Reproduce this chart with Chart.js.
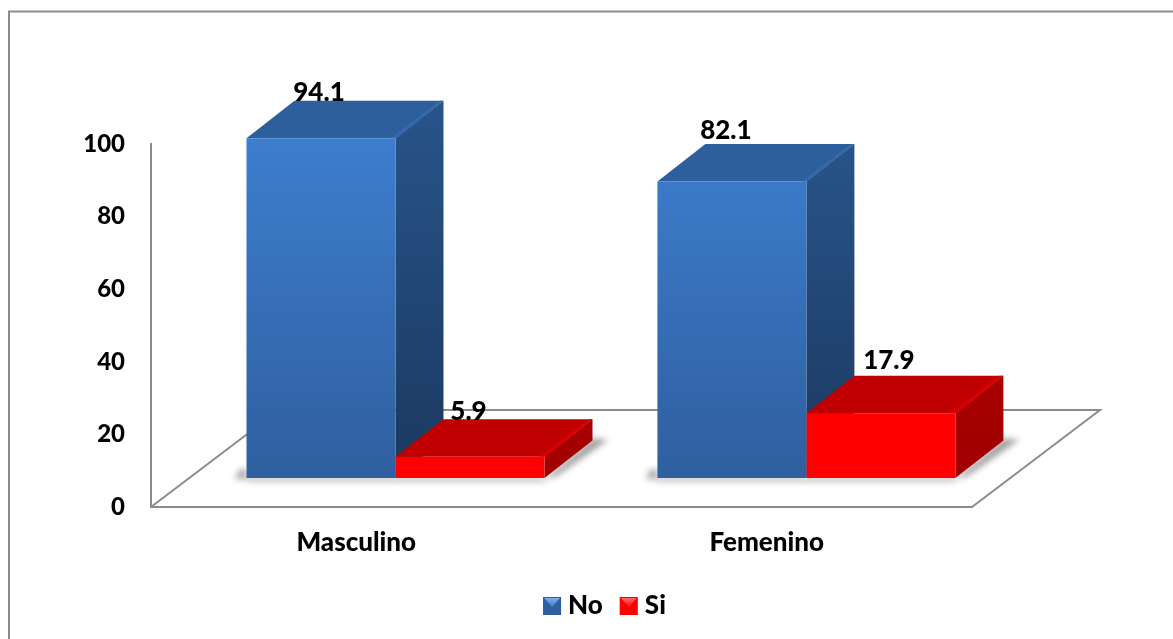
<!DOCTYPE html>
<html><head><meta charset="utf-8">
<style>html,body{margin:0;padding:0;background:#fff}canvas{display:block}</style>
<script src="https://cdn.jsdelivr.net/npm/chart.js@4"></script>
</head><body>
<canvas id="c" width="1173" height="639"></canvas>
<script>
const categories = ["Masculino", "Femenino"];
const seriesNames = ["No", "Si"];
const noValues = [94.1, 82.1];
const siValues = [5.9, 17.9];
const yTicks = [0, 20, 40, 60, 80, 100];

const FONT = 'Lato, Carlito, sans-serif';
const WEIGHT = '900';
const LINE = '#8c8c8c';
const DX = 48, DY = 37.5;
const palette = {
  No: {front:['#3d7dcd','#2f5f9f'], top:'#2c5f9c', edge:'#3568a8', side:['#28548a','#1b3960'], icon:['#7fb5f0','#3d7dcd']},
  Si: {front:['#ff0000','#ff0000'], top:'#c00000', edge:'#d80000', side:['#a80000','#a00000'], icon:['#ff7070','#ff1010']}
};
const nudges = [[[-2,-45.5],[-6,-51]],[[-1.5,-45],[8,-53]]];

function poly(ctx, pts, fill){
  ctx.beginPath();
  pts.forEach((p,i)=> i?ctx.lineTo(p[0],p[1]):ctx.moveTo(p[0],p[1]));
  ctx.closePath();
  ctx.fillStyle = fill; ctx.fill();
}

const bars3d = {
  id:'bars3d',
  afterLayout(chart){
    const lg = chart.legend;
    const w = lg.right - lg.left;
    lg.left = 604.5 - w/2; lg.right = 604.5 + w/2;
    const tops = lg.legendHitBoxes.map(h=>h.top);
    lg.adjustHitBoxes();
    lg.legendHitBoxes.forEach((h,i)=>{h.top = tops[i];});
  },
  beforeDraw(chart){
    const ctx = chart.ctx;
    ctx.save();
    ctx.strokeStyle = LINE; ctx.lineWidth = 2;
    ctx.beginPath(); ctx.moveTo(9,639); ctx.lineTo(9,11.5); ctx.lineTo(1173,11.5); ctx.stroke();
    ctx.restore();
  },
  beforeDatasetsDraw(chart){
    const ctx = chart.ctx, a = chart.chartArea;
    ctx.save();
    ctx.strokeStyle = LINE; ctx.lineWidth = 2;
    ctx.beginPath();
    ctx.moveTo(a.left, a.bottom); ctx.lineTo(a.left+128, a.bottom-97);
    ctx.lineTo(1100, a.bottom-97); ctx.lineTo(a.right, a.bottom);
    ctx.stroke();
    ctx.filter = 'blur(3px)';
    chart.data.datasets.forEach((ds,i)=>{
      chart.getDatasetMeta(i).data.forEach(b=>{
        const l=b.x-b.width/2, r=b.x+b.width/2, y=b.base;
        if(i===0) poly(ctx,[[l-12,y+1],[l,y+1],[l,y-9],[l-6,y-9]],'rgba(80,80,80,.5)');
        poly(ctx,[[l,y],[r,y],[r,y+3],[l,y+3]],'rgba(90,90,90,.6)');
        if(i===1) poly(ctx,[[r,y+1],[r+12,y-2],[r+DX+16,y-DY-1],[r+DX,y-DY-2]],'rgba(80,80,80,.55)');
      });
    });
    ctx.filter = 'none';
    chart.data.datasets.forEach((ds,i)=>{
      const p = palette[ds.label];
      chart.getDatasetMeta(i).data.forEach(b=>{
        const l=b.x-b.width/2, r=b.x+b.width/2, t=b.y, y=b.base;
        const g = ctx.createLinearGradient(0,t-DY,0,y);
        g.addColorStop(0,p.side[0]); g.addColorStop(1,p.side[1]);
        poly(ctx,[[r,t],[r+DX,t-DY],[r+DX,y-DY],[r,y]],g);
        poly(ctx,[[l,t],[l+DX,t-DY],[r+DX,t-DY],[r,t]],p.top);
        poly(ctx,[[r-5,t],[r+DX-4,t-DY],[r+DX,t-DY],[r+1,t]],p.edge);
      });
    });
    ctx.restore();
  },
  afterDatasetsDraw(chart){
    const ctx = chart.ctx;
    ctx.save();
    ctx.font = WEIGHT+' 26px '+FONT;
    ctx.fillStyle = '#000'; ctx.textAlign='center'; ctx.textBaseline='middle';
    chart.data.datasets.forEach((ds,i)=>{
      chart.getDatasetMeta(i).data.forEach((b,j)=>{
        const n = nudges[i][j];
        ctx.fillText(ds.data[j].y.toFixed(1), b.x+n[0], b.y+n[1]);
      });
    });
    ctx.restore();
  },
  afterDraw(chart){
    const ctx = chart.ctx;
    ctx.save();
    chart.legend.legendHitBoxes.forEach((h,i)=>{
      const p = palette[seriesNames[i]], x=h.left, y=h.top+(h.height-18)/2, s=18;
      const g = ctx.createLinearGradient(0,y,0,y+s*.55);
      g.addColorStop(0,p.icon[0]); g.addColorStop(1,p.icon[1]);
      poly(ctx,[[x,y],[x+s,y],[x+s,y+s],[x,y+s]],p.front[1]);
      poly(ctx,[[x+1,y+1],[x+s-1,y+1],[x+s/2,y+s*.55]],g);
    });
    ctx.restore();
  }
};

function frontFill(name){
  return c=>{
    const p = palette[name];
    const a = c.chart.chartArea;
    if(!a) return p.front[0];
    const g = c.chart.ctx.createLinearGradient(0,a.top,0,a.bottom-29);
    g.addColorStop(0,p.front[0]); g.addColorStop(1,p.front[1]);
    return g;
  };
}

new Chart(document.getElementById('c'),{
  type:'bar',
  data:{
    labels:categories,
    datasets:[
      {label:seriesNames[0],data:noValues.map((v,i)=>({x:i,y:v})),backgroundColor:frontFill('No'),xAxisID:'x2',yAxisID:'y2',clip:false},
      {label:seriesNames[1],data:siValues.map((v,i)=>({x:i,y:v})),backgroundColor:frontFill('Si'),xAxisID:'x2',yAxisID:'y2',clip:false}
    ]
  },
  plugins:[bars3d],
  options:{
    responsive:false,animation:false,
    datasets:{bar:{barThickness:149,inflateAmount:0,borderWidth:0}},
    layout:{padding:{left:0,top:144,right:201,bottom:10}},
    plugins:{
      tooltip:{enabled:false},
      legend:{position:'bottom',labels:{boxWidth:12,boxHeight:18,padding:17,color:'#000',font:{family:FONT,weight:WEIGHT,size:26}}}
    },
    scales:{
      x:{type:'category',labels:categories,position:'bottom',grid:{display:false},
         border:{display:true,color:LINE,width:2},
         afterFit:s=>{s.height=69;},
         ticks:{color:'#000',padding:12,maxRotation:0,font:{family:FONT,weight:WEIGHT,size:26}}},
      y:{type:'linear',position:'left',min:0,max:100,afterBuildTicks:s=>{s.ticks=yTicks.map(v=>({value:v}));},
         grid:{display:false,drawTicks:false},
         border:{display:true,color:LINE,width:2},
         afterFit:s=>{s.width=151;},
         ticks:{color:'#000',padding:26,font:{family:FONT,weight:WEIGHT,size:24}}},
      x2:{type:'linear',display:false,offset:false,min:-0.595,max:1.403},
      y2:{type:'linear',display:false,min:-8.03,max:92.5}
    }
  }
});
</script>
</body></html>
